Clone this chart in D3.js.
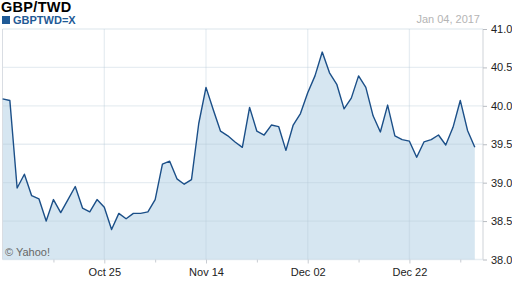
<!DOCTYPE html>
<html><head><meta charset="utf-8">
<script src="https://cdn.jsdelivr.net/npm/d3@7/dist/d3.min.js"></script>
<style>
body{margin:0;background:#fff}
svg{display:block}
text{font-family:"Liberation Sans",Arial,Helvetica,sans-serif}
</style>
</head><body>
<svg id="chart" width="512" height="288"></svg>
<script>
// trading-day index (Oct 05, 2016 = 0 ... Jan 04, 2017 = 65)
const dayIndex = d3.range(0, 66);
const rates = [
  40.09, 40.07, 38.93, 39.11, 38.83, 38.79, 38.50, 38.78, 38.61, 38.78,
  38.95, 38.67, 38.62, 38.78, 38.68, 38.39, 38.60, 38.53, 38.60, 38.60,
  38.62, 38.78, 39.24, 39.28, 39.05, 38.98, 39.04, 39.77, 40.24, 39.95,
  39.67, 39.61, 39.53, 39.46, 39.98, 39.67, 39.62, 39.75, 39.73, 39.42,
  39.75, 39.90, 40.17, 40.39, 40.70, 40.43, 40.28, 39.96, 40.10, 40.39,
  40.24, 39.87, 39.66, 40.01, 39.61, 39.56, 39.54, 39.33, 39.53, 39.56,
  39.62, 39.49, 39.72, 40.07, 39.68, 39.46
];
const yTicks = [38.0, 38.5, 39.0, 39.5, 40.0, 40.5, 41.0];
const xTickIdx = [14, 28, 42, 56];
const xTickLabels = ["Oct 25", "Nov 14", "Dec 02", "Dec 22"];
const xMinorIdx = [7, 21, 35, 49, 63];
const title = "GBP/TWD";
const symbol = "GBPTWD=X";
const dateLabel = "Jan 04, 2017";
const credit = "\u00A9 Yahoo!";

(function () {
const svg = d3.select("#chart");
const pL = 2.6, pR = 483, pT = 29, pB = 259.5;

const x = d3.scaleLinear().domain([0, 65]).range([pL, 474.8]);
const y = d3.scaleLinear().domain([38, 41]).range([pB, pT]);

const data = dayIndex.map((d, i) => ({d, v: rates[i]}));

// area fill
svg.append("path")
  .datum(data)
  .attr("d", d3.area().x(p => x(p.d)).y0(pB).y1(p => y(p.v)))
  .attr("fill", "#d6e6f1");

// horizontal grid
svg.append("g").selectAll("line").data(yTicks).join("line")
  .attr("x1", pL).attr("x2", pR)
  .attr("y1", d => y(d)).attr("y2", d => y(d))
  .attr("stroke", "#b4c6d8").attr("stroke-opacity", 0.32).attr("stroke-width", 1.3);

// vertical grid at major ticks
svg.append("g").selectAll("line").data(xTickIdx).join("line")
  .attr("x1", d => x(d)).attr("x2", d => x(d))
  .attr("y1", pT).attr("y2", pB)
  .attr("stroke", "#b4c6d8").attr("stroke-opacity", 0.32).attr("stroke-width", 1.3);

// left frame
svg.append("line").attr("x1", 2.5).attr("x2", 2.5).attr("y1", pT).attr("y2", pB)
  .attr("stroke", "#d9dde3");

// price line
svg.append("path")
  .datum(data)
  .attr("d", d3.line().x(p => x(p.d)).y(p => y(p.v)))
  .attr("fill", "none").attr("stroke", "#1b4f88").attr("stroke-width", 1.4)
  .attr("stroke-linejoin", "round");

// right axis
const yAxis = d3.axisRight(y).tickValues(yTicks).tickFormat(d3.format(".1f")).tickSize(4).tickPadding(4);
const ya = svg.append("g").attr("transform", `translate(${pR},0)`).call(yAxis);
ya.select(".domain").attr("stroke", "#cfd3d8").attr("d", `M0,${pT}V${pB}`);
ya.selectAll(".tick line").attr("stroke", "#b8bcc2");
ya.selectAll(".tick text").attr("fill", "#222").style("font-size", "11px")
  .style("font-family", '"Liberation Sans",Arial,sans-serif');

// bottom axis (major labels)
const xAxis = d3.axisBottom(x).tickValues(xTickIdx).tickFormat((d, i) => xTickLabels[i]).tickSize(4).tickPadding(5);
const xa = svg.append("g").attr("transform", `translate(0,${pB})`).call(xAxis);
xa.select(".domain").remove();
xa.selectAll(".tick line").attr("stroke", "#c8ccd2");
xa.selectAll(".tick text").attr("fill", "#222").style("font-size", "11px")
  .style("font-family", '"Liberation Sans",Arial,sans-serif');

// minor ticks
const xMinor = d3.axisBottom(x).tickValues(xMinorIdx).tickFormat("").tickSize(3);
const xm = svg.append("g").attr("transform", `translate(0,${pB})`).call(xMinor);
xm.select(".domain").remove();
xm.selectAll(".tick line").attr("stroke", "#c8ccd2");

// texts
svg.append("text").attr("x", 1).attr("y", 12).text(title)
  .attr("font-weight", "bold").style("font-size", "14.5px").style("letter-spacing", "0.3px").attr("fill", "#000");
svg.append("rect").attr("x", 2).attr("y", 16).attr("width", 8).attr("height", 8).attr("fill", "#1f5a96");
svg.append("text").attr("x", 13).attr("y", 24).text(symbol)
  .attr("font-weight", "bold").style("font-size", "11px").attr("fill", "#1f5a96");
svg.append("text").attr("x", 480).attr("y", 23).attr("text-anchor", "end").text(dateLabel)
  .style("font-size", "11px").attr("fill", "#b4b4b4");
svg.append("text").attr("x", 5).attr("y", 256).text(credit)
  .style("font-size", "11px").attr("fill", "#666");
})();
</script>
</body></html>
